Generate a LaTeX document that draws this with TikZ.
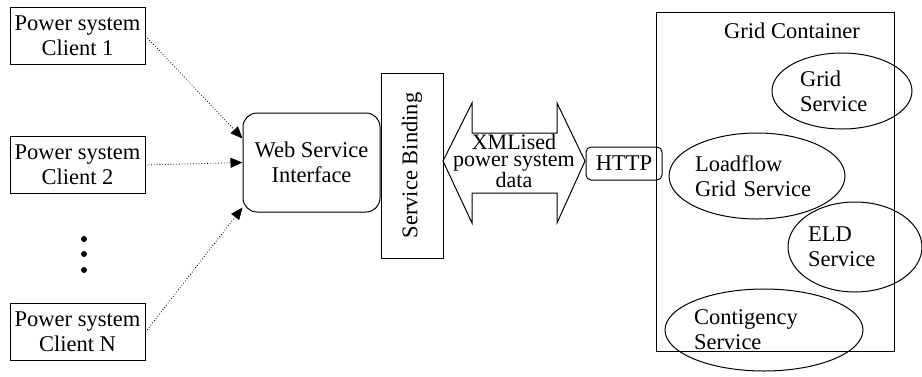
\documentclass[tikz,border=0pt]{standalone}
\usepackage{fontspec}
\setmainfont{Liberation Serif}
\usepackage{tikz}
\usetikzlibrary{arrows.meta,shapes.geometric}

\begin{document}
\begin{tikzpicture}
    [x=1pt,y=-1pt,line width=1pt,
     every node/.style={font=\fontsize{22.5}{25}\selectfont,align=center,inner sep=0pt},
     client/.style={draw,rectangle,minimum width=135pt,minimum height=57pt},
     iface/.style={draw,rectangle,rounded corners=14pt},
     gridsvc/.style={draw,ellipse,align=left},
     link/.style={dotted,line width=0.8pt,-{Triangle[length=12pt,width=10pt]}}]
    \useasboundingbox (0,0) rectangle (922,376);

    \node[client] (c1) at (77.5,36)  {Power system\\Client 1};
    \node[client] (c2) at (77.5,165) {Power system\\Client 2};
    \node[client] (cn) at (77.5,332) {Power system\\Client N};
    \foreach \y in {239,254,270} \fill (84,\y) circle (3pt);

    \node[iface,minimum width=137pt,minimum height=99pt] (wsi) at (311.5,162.5) {Web Service\\Interface};
    \coordinate (w1) at ([yshift=24pt]wsi.west);
    \coordinate (w2) at (wsi.west);
    \coordinate (wn) at ([yshift=-45pt]wsi.west);
    \node[draw,minimum width=62pt,minimum height=185pt] (sb) at (412,165.5) {};
    \node[rotate=90] (sbt) at (sb.center) {Service Binding};

    % double arrow between the binding and HTTP
    \draw (443,161) -- (472,103) -- (472,133) -- (557,133) -- (557,103) -- (585,161)
          -- (557,223) -- (557,193) -- (472,193) -- (472,223) -- cycle;
    \node[font=\fontsize{22}{17}\selectfont] (xml) at (514,161) {XMLised\\power system\\data};

    \node[draw,rounded corners=5pt,minimum width=76pt,minimum height=33pt] (http) at (624,163.5) {HTTP};

    \node[draw,minimum width=238pt,minimum height=339pt] (gc) at (775,181.5) {};
    \node (gct) at (792,31) {Grid Container};

    \node[gridsvc,text width=84pt,minimum width=140pt,minimum height=76pt]  (gs)  at (842,91)  {Grid\\Service};
    \node[gridsvc,text width=124pt,minimum width=176pt,minimum height=86pt] (lf)  at (757,176) {Loadflow\\Grid Service};
    \node[gridsvc,text width=94pt,minimum width=134pt,minimum height=90pt]  (eld) at (855,247) {ELD\\Service};
    \node[gridsvc,text width=140pt,minimum width=198pt,minimum height=82pt] (cs)  at (764,330) {Contigency\\Service};

    \foreach \from/\to in {c1/w1,c2/w2,cn/wn}
    \draw[link] (\from.east) -- (\to);
\end{tikzpicture}
\end{document}
